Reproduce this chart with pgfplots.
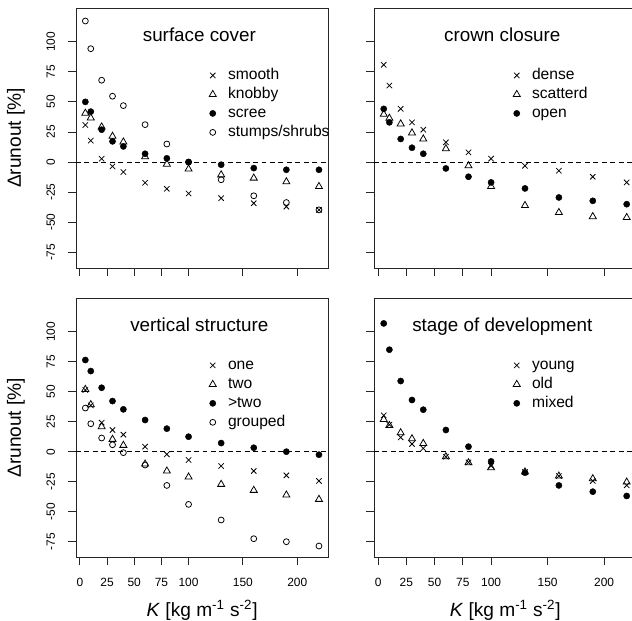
\documentclass[border=0pt]{standalone}
\usepackage{fontspec}
\setmainfont{Liberation Sans}
\usepackage{pgfplots}
\pgfplotsset{compat=1.18}

\pgfplotsset{
  panel/.style={
    scale only axis,
    width=6.3075cm, height=6.5cm,
    xmin=-3.6, xmax=228.6, ymin=-88, ymax=128,
    axis line style={line width=0.6pt, black!85},
    xtick={0,25,50,75,100,150,200},
    ytick={-75,-50,-25,0,25,50,75,100},
    tick align=outside, tick pos=left,
    major tick length=0.2cm,
    every tick/.style={line width=0.6pt, black!85},
    /pgf/number format/assume math mode=true,
    tick label style={font=\fontsize{8.5}{10}\selectfont},
    yticklabel style={rotate=90, anchor=base},
    xticklabel style={anchor=base},
    yticklabel shift=0.325cm,
    xticklabel shift=0.5175cm,
    title style={at={(axis description cs:0.489,0.84)}, anchor=base,
      font=\fontsize{13.4}{15}\selectfont},
    ylabel={Δrunout [\%]},
    ylabel style={at={(axis description cs:-0.218,0.5)}, anchor=base,
      font=\fontsize{13.6}{16}\selectfont},
    xlabel={\textit{K} [kg m\textsuperscript{-1} s\textsuperscript{-2}]},
    xlabel style={at={(axis description cs:0.5,-0.2303)}, anchor=base,
      font=\fontsize{13.6}{16}\selectfont},
    legend style={at={(axis description cs:0.516,0.77)}, anchor=north west,
      draw=none, fill=none, inner sep=0pt,
      font=\fontsize{11.1}{13}\selectfont,
      nodes={inner sep=0pt, text height=8pt, text depth=2.5pt},
      row sep=3pt, column sep=0.225cm},
    legend cell align=left,
    legend image code/.code={\path (0cm,0cm) (0.3cm,0cm);
      \draw[##1] plot coordinates {(0.15cm,0cm)};},
  },
  zline/.style={black, line width=0.5pt, dash pattern=on 3.5pt off 2.5pt, forget plot},
  mx/.style={only marks, black, mark=x, mark size=2.7pt, mark options={line width=0.55pt}},
  mtri/.style={only marks, black, mark=triangle, mark size=2.9pt, mark options={line width=0.55pt}},
  mdot/.style={only marks, black, mark=*, mark size=2.2pt, mark options={line width=0.3pt}},
  mcirc/.style={only marks, black, mark=o, mark size=2.1pt, mark options={line width=0.55pt}},
}

\begin{document}
\begin{tikzpicture}
\path[use as bounding box] (0,0) rectangle (15.8,15.5);

% surface cover
\begin{axis}[panel, at={(1.9cm,8.8cm)}, anchor=south west,
  xticklabels={}, xlabel={}, title={surface cover}]
\addplot[zline] coordinates {(-3.6,0) (228.6,0)};
\addplot[mx] coordinates {(5,30.8) (10,17.8) (20,2.8) (30,-3.6) (40,-8.3) (60,-17.2) (80,-22.2) (100,-26.1) (130,-30) (160,-34.2) (190,-37) (220,-39.7)};
\addplot[mtri] coordinates {(5,40.6) (10,36.7) (20,29.2) (30,21.4) (40,16.7) (60,4.4) (80,-1.7) (100,-5.8) (130,-10.6) (160,-13.3) (190,-16.4) (220,-20.3)};
\addplot[mdot] coordinates {(5,50) (10,41.9) (20,26.9) (30,17.2) (40,13) (60,6.9) (80,3.1) (100,0) (130,-2.2) (160,-5) (190,-6.4) (220,-6.4)};
\addplot[mcirc] coordinates {(5,117.2) (10,94.2) (20,68) (30,54.7) (40,46.9) (60,31.1) (80,15) (100,0) (130,-14.7) (160,-28) (190,-33.6) (220,-39.7)};
\legend{smooth, knobby, scree, stumps/shrubs}
\end{axis}

% crown closure
\begin{axis}[panel, at={(9.35cm,8.8cm)}, anchor=south west, width=6.56cm,
  xticklabels={}, yticklabels={}, xlabel={}, ylabel={}, title={crown closure},
  legend style={at={(axis description cs:0.519,0.77)}}]
\addplot[zline] coordinates {(-3.6,0) (228.6,0)};
\addplot[mx] coordinates {(5,80.8) (10,63.6) (20,44.2) (30,33) (40,26.9) (60,16.4) (80,8.1) (100,2.8) (130,-3.1) (160,-7.2) (190,-12.2) (220,-16.9)};
\addplot[mtri] coordinates {(5,39.7) (10,36.4) (20,31.7) (30,24.2) (40,19.2) (60,11.1) (80,-3.1) (100,-20.3) (130,-36.1) (160,-41.9) (190,-45.3) (220,-46.1)};
\addplot[mdot] coordinates {(5,44.2) (10,33) (20,19.2) (30,11.9) (40,6.9) (60,-5.3) (80,-12.2) (100,-16.9) (130,-21.9) (160,-29.4) (190,-32.2) (220,-35)};
\legend{dense, scatterd, open}
\end{axis}

% vertical structure
\begin{axis}[panel, at={(1.9cm,1.5675cm)}, anchor=south west, height=6.48cm,
  title={vertical structure}]
\addplot[zline] coordinates {(-3.6,0) (228.6,0)};
\addplot[mx] coordinates {(5,51.4) (10,38.6) (20,24.2) (30,18.1) (40,14.2) (60,4.2) (80,-2.2) (100,-6.9) (130,-11.9) (160,-16.1) (190,-19.7) (220,-24.4)};
\addplot[mtri] coordinates {(5,51.9) (10,39.2) (20,20.8) (30,10.3) (40,5.3) (60,-10.3) (80,-16.1) (100,-21.1) (130,-27.2) (160,-32.2) (190,-36.1) (220,-39.7)};
\addplot[mdot] coordinates {(5,76.4) (10,67.2) (20,53.3) (30,42.2) (40,35.3) (60,26.4) (80,19.2) (100,12.5) (130,7.2) (160,3.3) (190,0) (220,-2.5)};
\addplot[mcirc] coordinates {(5,36.4) (10,23.3) (20,11.4) (30,5.8) (40,-0.8) (60,-11.1) (80,-28.1) (100,-43.9) (130,-56.9) (160,-72.5) (190,-75) (220,-78.6)};
\legend{one, two, >two, grouped}
\end{axis}

% stage of development
\begin{axis}[panel, at={(9.35cm,1.5675cm)}, anchor=south west, width=6.56cm, height=6.48cm,
  yticklabels={}, ylabel={}, title={stage of development},
  legend style={at={(axis description cs:0.519,0.77)}}]
\addplot[zline] coordinates {(-3.6,0) (228.6,0)};
\addplot[mx] coordinates {(5,30.3) (10,22.5) (20,11.9) (30,6.4) (40,2.8) (60,-4.2) (80,-8.9) (100,-11.9) (130,-16.9) (160,-20.3) (190,-24.4) (220,-28)};
\addplot[mtri] coordinates {(5,26.9) (10,21.9) (20,15.8) (30,10.8) (40,6.9) (60,-4.2) (80,-9.2) (100,-13.3) (130,-16.9) (160,-20.3) (190,-22.5) (220,-25.3)};
\addplot[mdot] coordinates {(5,106.9) (10,85) (20,58.9) (30,43.1) (40,35) (60,18.1) (80,4.2) (100,-8.1) (130,-17.5) (160,-28.1) (190,-33.3) (220,-36.9)};
\legend{young, old, mixed}
\end{axis}
\end{tikzpicture}
\end{document}
